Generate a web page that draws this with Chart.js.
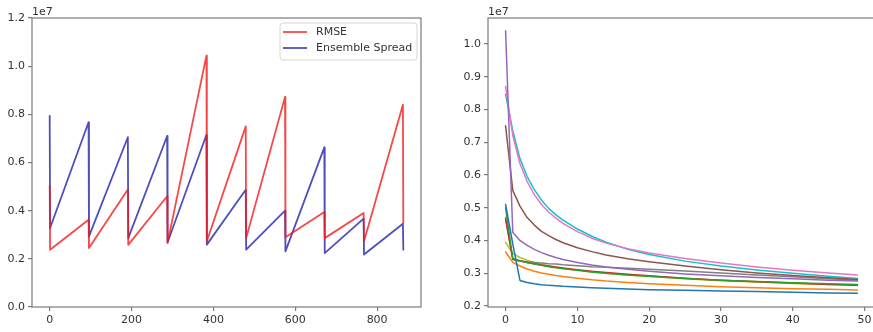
<!DOCTYPE html>
<html lang="en">

<head>
  <meta charset="UTF-8">
  <title>RMSE and Ensemble Spread</title>
  <script src="https://cdn.jsdelivr.net/npm/chart.js@4.4.0/dist/chart.umd.min.js"></script>
  <style>
    body { margin: 0; background: #fff; overflow: hidden; width: 873px; height: 332px; position: relative; }
    canvas { position: absolute; top: 0; }
    #left { left: 0; }
    #right { left: 440px; }
  </style>
</head>

<body>
  <canvas id="left" width="440" height="332"></canvas>
  <canvas id="right" width="440" height="332"></canvas>
</body>

<script>
  // left panel: values over all steps (units of 1e7)
  const steps = [0, 1, 95, 96, 191, 192, 287, 288, 383, 384, 479, 480, 575, 576, 671, 672, 767, 768, 863, 864];
  const rmse = [0.505, 0.238, 0.362, 0.245, 0.488, 0.258, 0.46, 0.266, 1.044, 0.273, 0.75, 0.286, 0.872, 0.29, 0.394, 0.286, 0.39, 0.273, 0.84, 0.35];
  const spread = [0.794, 0.328, 0.767, 0.293, 0.705, 0.286, 0.71, 0.268, 0.715, 0.259, 0.487, 0.238, 0.40, 0.231, 0.663, 0.224, 0.367, 0.218, 0.346, 0.238];
  const leftXTicks = [0, 200, 400, 600, 800];
  const leftYTicks = [0, 0.2, 0.4, 0.6, 0.8, 1.0, 1.2];

  // right panel: one curve per cycle
  const iters = [0, 1, 2, 3, 4, 5, 6, 7, 8, 10, 12, 14, 17, 20, 25, 30, 35, 40, 45, 49];
  const cycles = [
    [0.51, 0.39, 0.278, 0.272, 0.268, 0.265, 0.263, 0.262, 0.26, 0.258, 0.256, 0.254, 0.252, 0.25, 0.248, 0.246, 0.244, 0.242, 0.24, 0.239],
    [0.365, 0.333, 0.322, 0.313, 0.306, 0.301, 0.297, 0.293, 0.29, 0.285, 0.28, 0.276, 0.272, 0.268, 0.263, 0.259, 0.256, 0.253, 0.251, 0.249],
    [0.50, 0.345, 0.338, 0.333, 0.328, 0.324, 0.32, 0.317, 0.314, 0.309, 0.304, 0.3, 0.295, 0.291, 0.284, 0.279, 0.275, 0.271, 0.268, 0.266],
    [0.465, 0.343, 0.337, 0.333, 0.329, 0.325, 0.322, 0.319, 0.316, 0.311, 0.306, 0.302, 0.297, 0.292, 0.285, 0.279, 0.274, 0.27, 0.266, 0.263],
    [1.04, 0.425, 0.40, 0.385, 0.373, 0.363, 0.355, 0.348, 0.342, 0.333, 0.325, 0.319, 0.312, 0.306, 0.298, 0.292, 0.287, 0.283, 0.279, 0.276],
    [0.75, 0.553, 0.505, 0.47, 0.447, 0.428, 0.415, 0.403, 0.393, 0.378, 0.366, 0.356, 0.344, 0.335, 0.322, 0.311, 0.301, 0.293, 0.286, 0.281],
    [0.87, 0.72, 0.635, 0.58, 0.54, 0.51, 0.487, 0.468, 0.452, 0.427, 0.407, 0.392, 0.375, 0.362, 0.345, 0.331, 0.319, 0.309, 0.301, 0.295],
    [0.47, 0.342, 0.338, 0.335, 0.333, 0.331, 0.329, 0.328, 0.326, 0.323, 0.32, 0.318, 0.315, 0.312, 0.307, 0.301, 0.295, 0.289, 0.283, 0.279],
    [0.394, 0.36, 0.348, 0.34, 0.333, 0.327, 0.322, 0.318, 0.315, 0.309, 0.304, 0.3, 0.295, 0.29, 0.283, 0.277, 0.273, 0.269, 0.266, 0.264],
    [0.846, 0.735, 0.65, 0.595, 0.555, 0.523, 0.498, 0.478, 0.462, 0.435, 0.413, 0.395, 0.373, 0.357, 0.337, 0.322, 0.31, 0.3, 0.291, 0.284]
  ];
  const rightXTicks = [0, 10, 20, 30, 40, 50];
  const rightYTicks = [0.2, 0.3, 0.4, 0.5, 0.6, 0.7, 0.8, 0.9, 1.0];

  const tab10 = ['#1f77b4', '#ff7f0e', '#2ca02c', '#d62728', '#9467bd', '#8c564b', '#e377c2', '#7f7f7f', '#bcbd22', '#17becf'];
  const spine = '#7a7a7a';
  const textColor = '#333';
  const font = { family: '"DejaVu Sans"', size: 11 };

  // box around the plot and the "1e7" offset text
  const frame = {
    id: 'frame',
    afterDraw(chart) {
      const { ctx, chartArea: a } = chart;
      ctx.save();
      ctx.strokeStyle = spine;
      ctx.lineWidth = 1.2;
      ctx.strokeRect(a.left, a.top, a.right - a.left, a.bottom - a.top);
      ctx.fillStyle = textColor;
      ctx.font = '11px "DejaVu Sans"';
      ctx.textBaseline = 'alphabetic';
      ctx.fillText('1e7', a.left, a.top - 3);
      ctx.restore();
    }
  };

  // matplotlib-like legend box in the upper right
  const boxLegend = {
    id: 'boxLegend',
    afterDatasetsDraw(chart) {
      const { ctx, chartArea: a } = chart;
      const x = a.right - 141, y = a.top + 5, w = 137, h = 37;
      ctx.save();
      ctx.fillStyle = 'rgba(255,255,255,0.85)';
      ctx.strokeStyle = '#d6d6d6';
      ctx.lineWidth = 1;
      ctx.beginPath();
      ctx.roundRect(x, y, w, h, 3);
      ctx.fill();
      ctx.stroke();
      ctx.font = '11px "DejaVu Sans"';
      ctx.textBaseline = 'middle';
      chart.data.datasets.forEach((ds, i) => {
        const yy = y + 9 + i * 16;
        ctx.strokeStyle = ds.borderColor;
        ctx.lineWidth = ds.borderWidth;
        ctx.beginPath();
        ctx.moveTo(x + 3, yy);
        ctx.lineTo(x + 27, yy);
        ctx.stroke();
        ctx.fillStyle = textColor;
        ctx.fillText(ds.label, x + 36, yy);
      });
      ctx.restore();
    }
  };

  function axis(min, max, ticks, fmt, pos, size) {
    return {
      type: 'linear',
      position: pos,
      min: min,
      max: max,
      afterBuildTicks: s => { s.ticks = ticks.map(v => ({ value: v })); },
      afterFit: s => { if (pos === 'left') s.width = size; else s.height = size; },
      ticks: { color: textColor, font: font, padding: 3, autoSkip: false, maxRotation: 0, callback: fmt },
      grid: { drawOnChartArea: false, drawTicks: true, tickLength: 4, color: spine, lineWidth: 1.2 },
      border: { display: false }
    };
  }

  const pts = (xs, ys) => xs.map((x, i) => ({ x: x, y: ys[i] }));

  new Chart(document.getElementById('left'), {
    type: 'scatter',
    data: {
      datasets: [
        { label: 'RMSE', data: pts(steps, rmse), borderColor: 'rgba(245,20,20,0.78)', borderWidth: 1.8 },
        { label: 'Ensemble Spread', data: pts(steps, spread), borderColor: 'rgba(20,20,165,0.75)', borderWidth: 1.8 }
      ]
    },
    options: {
      responsive: false,
      devicePixelRatio: 1,
      animation: false,
      showLine: true,
      elements: { point: { radius: 0 }, line: { tension: 0, borderJoinStyle: 'round', borderCapStyle: 'round' } },
      layout: { padding: { top: 18, right: 19, left: 0, bottom: 0 } },
      plugins: { legend: { display: false }, tooltip: { enabled: false } },
      scales: {
        x: axis(-43.2, 907.2, leftXTicks, v => v, 'bottom', 25),
        y: axis(0, 1.2, leftYTicks, v => v.toFixed(1), 'left', 32)
      }
    },
    plugins: [frame, boxLegend]
  });

  new Chart(document.getElementById('right'), {
    type: 'scatter',
    data: {
      datasets: cycles.map((c, k) => ({
        label: 'cycle ' + k,
        data: pts(iters, c),
        borderColor: tab10[k],
        borderWidth: 1.5
      }))
    },
    options: {
      responsive: false,
      devicePixelRatio: 1,
      animation: false,
      showLine: true,
      elements: { point: { radius: 0 }, line: { tension: 0, borderJoinStyle: 'round', borderCapStyle: 'round' } },
      layout: { padding: { top: 18, right: 5, left: 0, bottom: 0 } },
      plugins: { legend: { display: false }, tooltip: { enabled: false } },
      scales: {
        x: axis(-2.45, 51.45, rightXTicks, v => v, 'bottom', 25),
        y: axis(0.197, 1.079, rightYTicks, v => v.toFixed(1), 'left', 48)
      }
    },
    plugins: [frame]
  });
</script>

</html>
